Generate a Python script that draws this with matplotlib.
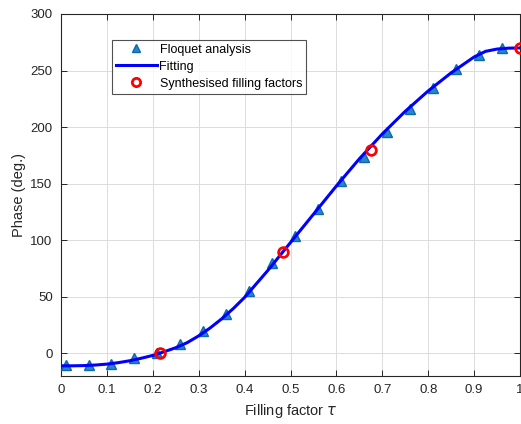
import matplotlib
matplotlib.use("Agg")
import matplotlib.pyplot as plt

# Floquet analysis data
tau_floquet = [0.01, 0.06, 0.11, 0.16, 0.21, 0.26, 0.31, 0.36, 0.41, 0.46,
               0.51, 0.56, 0.61, 0.66, 0.71, 0.76, 0.81, 0.86, 0.91, 0.96]
phase_floquet = [-10, -10, -9, -4.5, 0, 8.5, 20, 35, 55.5, 80,
                 103.5, 128, 152, 174, 196, 216, 235, 251, 264, 270]

# Fitting curve
tau_fit = [0.0, 0.025, 0.05, 0.075, 0.1, 0.125, 0.15, 0.175, 0.2, 0.225, 0.25,
           0.275, 0.3, 0.325, 0.35, 0.375, 0.4, 0.45, 0.5, 0.55, 0.6, 0.65,
           0.7, 0.75, 0.8, 0.85, 0.9, 0.925, 0.95, 0.975, 1.0]
phase_fit = [-11, -11, -10.8, -10.3, -9.5, -8.2, -6.5, -4.3, -1.8, 1.5, 5,
             9.5, 15.5, 22.5, 30.5, 39.5, 49.5, 73, 98, 123, 148, 172,
             194, 214, 232, 248, 262, 267, 269, 269.8, 270]

# Synthesised filling factors
tau_synth = [0.215, 0.483, 0.675, 1.0]
phase_synth = [0, 90, 180, 270]

xticks = [0, 0.1, 0.2, 0.3, 0.4, 0.5, 0.6, 0.7, 0.8, 0.9, 1]
xticklabels = ["0", "0.1", "0.2", "0.3", "0.4", "0.5", "0.6", "0.7", "0.8", "0.9", "1"]
yticks = [0, 50, 100, 150, 200, 250, 300]

plt.rcParams['font.family'] = ['Liberation Sans', 'DejaVu Sans']
plt.rcParams['mathtext.fontset'] = 'dejavusans'

fig = plt.figure(figsize=(5.21, 4.24), dpi=100)
ax = fig.add_axes([61/521, 1 - 376/424, 459/521, 362/424])

tri, = ax.plot(tau_floquet, phase_floquet, linestyle='none', marker='^',
               markersize=7.5, markerfacecolor='#2a86c8', markeredgecolor='#0a6aad',
               markeredgewidth=1.0, label='Floquet analysis', zorder=3)
fit, = ax.plot(tau_fit, phase_fit, color='#0000ff', linewidth=2.2,
               label='Fitting', zorder=4)
syn, = ax.plot(tau_synth, phase_synth, linestyle='none', marker='o',
               markersize=7, markerfacecolor='none', markeredgecolor='#ff0000',
               markeredgewidth=2.0, label='Synthesised filling factors',
               zorder=5, clip_on=False)

ax.set_xlim(0, 1)
ax.set_ylim(-20, 300)
ax.set_xticks(xticks)
ax.set_xticklabels(xticklabels)
ax.set_yticks(yticks)
ax.grid(True, color='#dcdcdc', linewidth=0.7)
ax.set_axisbelow(True)
ax.tick_params(direction='in', top=True, right=True, length=4, width=0.7,
               labelsize=9.5, colors='#262626', pad=6)
for s in ax.spines.values():
    s.set_color('#262626')
    s.set_linewidth(0.8)

ax.set_xlabel(r'Filling factor $\tau$', fontsize=10.5, color='#262626', labelpad=4)
ax.set_ylabel('Phase (deg.)', fontsize=10.5, color='#262626', labelpad=3)

leg = ax.legend(handles=[tri, fit, syn], loc='upper left',
                bbox_to_anchor=(51/459, 1 - 26/362), fontsize=9,
                frameon=True, fancybox=False, borderpad=0.3, labelspacing=0.4,
                handlelength=3.3, handletextpad=0.2, borderaxespad=0,
                markerscale=0.85)
leg.get_frame().set_edgecolor('#262626')
leg.get_frame().set_linewidth(0.8)

fig.savefig('out.png', dpi=100)
